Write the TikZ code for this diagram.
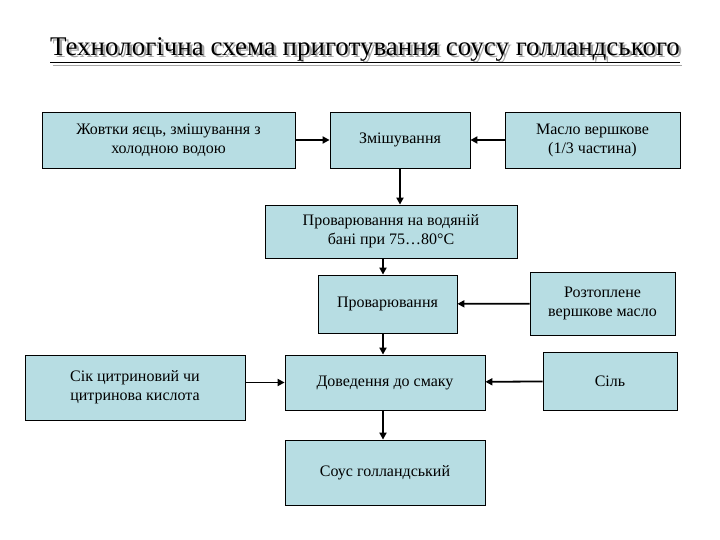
\documentclass[tikz,border=0pt]{standalone}
\usepackage{fontspec}
\setmainfont{Liberation Serif}
\usetikzlibrary{arrows.meta}
\definecolor{boxc}{RGB}{183,221,227}
\begin{document}
\begin{tikzpicture}[x=1pt,y=-1pt,
  bx/.style={draw=black,line width=0.8pt,fill=boxc,align=center,font=\fontsize{16}{19}\selectfont,inner sep=0pt},
  ar/.style={line width=1.8pt,-{Triangle[length=7pt,width=7pt]}}]
\useasboundingbox (0,0) rectangle (720,540);
\node (shadow) [text=gray!70,font=\fontsize{27}{30}\selectfont] at (367.5,52.5) {\underline{Технологічна схема приготування соусу голландського}};
\node (title) [font=\fontsize{27}{30}\selectfont] at (365,50) {\underline{Технологічна схема приготування соусу голландського}};
\node (A) [bx,minimum width=253,minimum height=56] at (168.5,140) {Жовтки яєць, змішування з\\холодною водою};
\node (B) [bx,minimum width=140,minimum height=56] at (400,140) {Змішування};
\node (C) [bx,minimum width=175,minimum height=56] at (592.5,140) {Масло вершкове\\(1/3 частина)};
\node (D) [bx,minimum width=252,minimum height=53] at (391,231.5) {Проварювання на водяній\\бані при 75…80°C};
\node (E) [bx,minimum width=139,minimum height=58] at (387.5,304) {Проварювання};
\node (F) [bx,minimum width=145,minimum height=63] at (602.5,303.5) {Розтоплене\\вершкове масло};
\node (G) [bx,minimum width=220,minimum height=65] at (135,387.5) {Сік цитриновий чи\\цитринова кислота};
\node (H) [bx,minimum width=200,minimum height=55] at (385,382.5) {Доведення до смаку};
\node (I) [bx,minimum width=134,minimum height=58] at (610,381) {Сіль};
\node (J) [bx,minimum width=200,minimum height=65] at (385,472.5) {Соус голландський};
\draw[ar] (A) -- (B);
\draw[ar] (C) -- (B);
\draw[ar] (B.south) -- (B.south |- D.north);
\draw[ar] (D.south -| 383,0) -- (E.north -| 383,0);
\draw[ar] (F) -- (E);
\draw[ar] (E.south -| 383,0) -- (H.north -| 383,0);
\draw[ar] (G.east |- H) -- (H.west);
\draw[ar] (I) -- (H);
\draw[ar] (H.south -| 383,0) -- (J.north -| 383,0);
\end{tikzpicture}
\end{document}
